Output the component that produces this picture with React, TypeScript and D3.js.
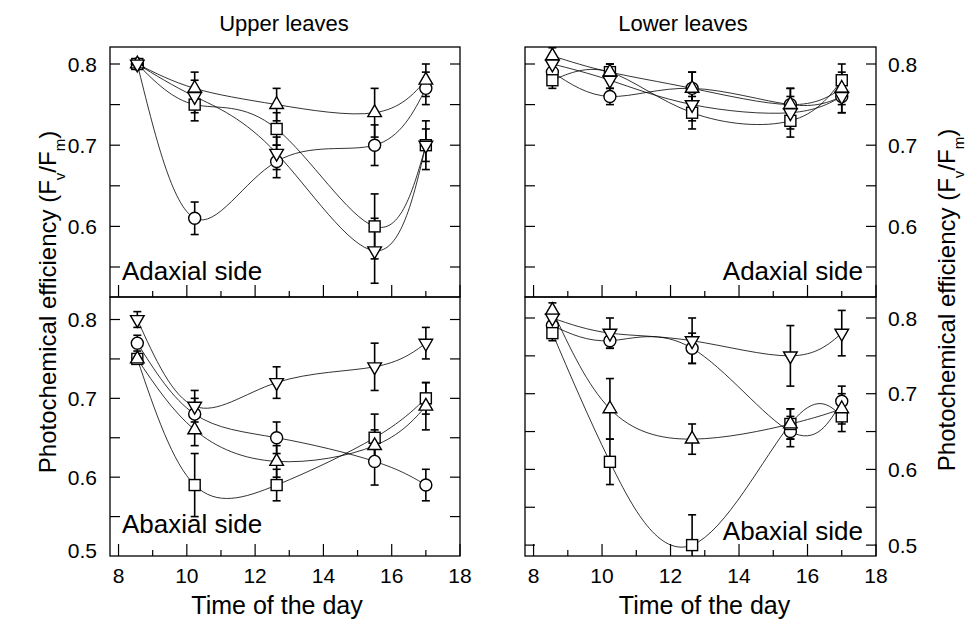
import React from 'react';
import * as d3 from 'd3';

// sampling times (h)
const times = [8.55, 10.23, 12.63, 15.5, 17.0];

// upper leaves, adaxial side
const upAdCircle = [0.80, 0.61, 0.68, 0.70, 0.77];
const upAdSquare = [0.80, 0.75, 0.72, 0.60, 0.70];
const upAdTriUp = [0.80, 0.77, 0.75, 0.74, 0.78];
const upAdTriDown = [0.80, 0.76, 0.69, 0.57, 0.70];
const upAdCircleErr = [0.005, 0.02, 0.02, 0.025, 0.02];
const upAdSquareErr = [0.005, 0.02, 0.02, 0.04, 0.02];
const upAdTriUpErr = [0.005, 0.02, 0.02, 0.03, 0.02];
const upAdTriDownErr = [0.005, 0.02, 0.02, 0.04, 0.03];

// upper leaves, abaxial side
const upAbCircle = [0.77, 0.68, 0.65, 0.62, 0.59];
const upAbSquare = [0.75, 0.59, 0.59, 0.65, 0.70];
const upAbTriUp = [0.75, 0.66, 0.62, 0.64, 0.69];
const upAbTriDown = [0.80, 0.69, 0.72, 0.74, 0.77];
const upAbCircleErr = [0.01, 0.02, 0.02, 0.03, 0.02];
const upAbSquareErr = [0.005, 0.04, 0.02, 0.03, 0.02];
const upAbTriUpErr = [0.005, 0.02, 0.02, 0.02, 0.03];
const upAbTriDownErr = [0.01, 0.02, 0.02, 0.03, 0.02];

// lower leaves, adaxial side
const loAdCircle = [0.79, 0.76, 0.77, 0.75, 0.76];
const loAdSquare = [0.78, 0.79, 0.74, 0.73, 0.78];
const loAdTriUp = [0.81, 0.79, 0.77, 0.75, 0.77];
const loAdTriDown = [0.80, 0.78, 0.75, 0.74, 0.76];
const loAdCircleErr = [0.01, 0.01, 0.02, 0.02, 0.02];
const loAdSquareErr = [0.01, 0.01, 0.02, 0.02, 0.02];
const loAdTriUpErr = [0.01, 0.01, 0.02, 0.02, 0.02];
const loAdTriDownErr = [0.01, 0.01, 0.02, 0.02, 0.02];

// lower leaves, abaxial side
const loAbCircle = [0.79, 0.77, 0.76, 0.65, 0.69];
const loAbSquare = [0.78, 0.61, 0.50, 0.66, 0.67];
const loAbTriUp = [0.81, 0.68, 0.64, 0.66, 0.68];
const loAbTriDown = [0.80, 0.78, 0.77, 0.75, 0.78];
const loAbCircleErr = [0.01, 0.01, 0.02, 0.02, 0.02];
const loAbSquareErr = [0.01, 0.03, 0.04, 0.02, 0.02];
const loAbTriUpErr = [0.01, 0.04, 0.02, 0.02, 0.02];
const loAbTriDownErr = [0.01, 0.02, 0.03, 0.04, 0.03];

const xTicks = [8, 10, 12, 14, 16, 18];
const yTicksUpper = [0.6, 0.7, 0.8];
const yTicksLower = [0.5, 0.6, 0.7, 0.8];

const FONT = "'Liberation Sans', Arial, sans-serif";

type Series = { shape: string; values: number[]; err: number[] };

const Marker = ({ shape, x, y }: { shape: string; x: number; y: number }) => {
  const st = { fill: 'white', stroke: '#000', strokeWidth: 1.4 };
  if (shape === 'circle') return <circle cx={x} cy={y} r={6} {...st} />;
  if (shape === 'square') return <rect x={x - 5.5} y={y - 5.5} width={11} height={11} {...st} />;
  const p = d3.symbol().type(d3.symbolTriangle).size(80)();
  const rot = shape === 'down' ? 180 : 0;
  return <path d={p || ''} transform={`translate(${x},${y}) rotate(${rot})`} {...st} />;
};

const Panel = ({ id, x0, x1, y0, y1, yDomain, series, yTicks, side, label, labelAnchor, labelY, bottomLabels, titleShift }: any) => {
  const x = d3.scaleLinear().domain([7.75, 18]).range([x0, x1]);
  const y = d3.scaleLinear().domain(yDomain).range([y1, y0]);
  const line = d3.line<number>().x((_, i) => x(times[i])).y((d) => y(d)).curve(d3.curveNatural);
  const minorY = d3.range(0.5, 0.851, 0.05).filter((v) => y(v) > y0 + 2 && y(v) < y1 - 1);
  const hours = d3.range(8, 19);
  return (
    <g>
      <defs>
        <clipPath id={id}>
          <rect x={x0} y={y0} width={x1 - x0} height={y1 - y0} />
        </clipPath>
      </defs>
      <g clipPath={`url(#${id})`}>
        {series.map((s: Series, k: number) => (
          <path key={k} d={line(s.values) || ''} fill="none" stroke="#000" strokeWidth={0.8} />
        ))}
        {series.map((s: Series, k: number) =>
          s.values.map((v, i) => (
            <g key={`${k}-${i}`} stroke="#000" strokeWidth={1.6}>
              <line x1={x(times[i])} x2={x(times[i])} y1={y(v - s.err[i])} y2={y(v + s.err[i])} />
              <line x1={x(times[i]) - 4} x2={x(times[i]) + 4} y1={y(v - s.err[i])} y2={y(v - s.err[i])} />
              <line x1={x(times[i]) - 4} x2={x(times[i]) + 4} y1={y(v + s.err[i])} y2={y(v + s.err[i])} />
            </g>
          ))
        )}
        {series.map((s: Series, k: number) =>
          s.values.map((v, i) => <Marker key={`m${k}-${i}`} shape={s.shape} x={x(times[i])} y={y(v)} />)
        )}
      </g>
      <rect x={x0} y={y0} width={x1 - x0} height={y1 - y0} fill="none" stroke="#000" strokeWidth={1.3} />
      {minorY.map((v: number) => (
        <g key={`yt${v}`} stroke="#000" strokeWidth={1.2}>
          <line x1={x0} x2={x0 + 10} y1={y(v)} y2={y(v)} />
          <line x1={x1 - 10} x2={x1} y1={y(v)} y2={y(v)} />
        </g>
      ))}
      {hours.map((h: number) => (
        <line key={`xt${h}`} x1={x(h)} x2={x(h)} y1={y1} y2={y1 - (h % 2 === 0 ? 12 : 6)} stroke="#000" strokeWidth={1.2} />
      ))}
      {yTicks.map((v: number) => (
        <text
          key={`yl${v}`}
          x={side === 'left' ? x0 - 13 : x1 + 12}
          y={Math.min(y(v), y1 - 6)}
          dy="0.36em"
          textAnchor={side === 'left' ? 'end' : 'start'}
          fontSize={21}
          fontFamily={FONT}
        >
          {v.toFixed(1)}
        </text>
      ))}
      <text
        x={labelAnchor === 'start' ? x0 + 12 : x1 - 13}
        y={labelY}
        textAnchor={labelAnchor}
        fontSize={26}
        fontFamily={FONT}
      >
        {label}
      </text>
      {bottomLabels &&
        xTicks.map((t) => (
          <text key={`xl${t}`} x={x(t)} y={y1 + 27} textAnchor="middle" fontSize={21} fontFamily={FONT}>
            {t}
          </text>
        ))}
      {bottomLabels && (
        <text x={(x0 + x1) / 2 + titleShift} y={y1 + 58} textAnchor="middle" fontSize={25} fontFamily={FONT}>
          Time of the day
        </text>
      )}
    </g>
  );
};

const YLabel = ({ x, y }: { x: number; y: number }) => (
  <text transform={`translate(${x},${y}) rotate(-90)`} textAnchor="middle" fontSize={24} fontFamily={FONT}>
    Photochemical efficiency (F
    <tspan baselineShift="sub" fontSize={15}>v</tspan>
    <tspan>/F</tspan>
    <tspan baselineShift="sub" fontSize={15}>m</tspan>
    <tspan>)</tspan>
  </text>
);

export default function App() {
  const upperDomain = [0.55 - 30 / 812, 0.8 + 17 / 812];
  const lowerLeftDomain = [0.5, 0.8 + 22.5 / 788];
  const lowerRightDomain = [0.8 - 238 / 757, 0.8 + 21 / 757];
  const mk = (c: number[], ce: number[], s: number[], se: number[], u: number[], ue: number[], d: number[], de: number[]) => [
    { shape: 'circle', values: c, err: ce },
    { shape: 'square', values: s, err: se },
    { shape: 'up', values: u, err: ue },
    { shape: 'down', values: d, err: de },
  ];
  return (
    <svg width={978} height={625} style={{ position: 'absolute', left: 0, top: 0, background: '#fff' }}>
      <text x={284} y={31} textAnchor="middle" fontSize={22} fontFamily={FONT}>Upper leaves</text>
      <text x={683} y={31} textAnchor="middle" fontSize={22} fontFamily={FONT}>Lower leaves</text>
      <Panel id="c1" x0={110} x1={460} y0={47} y1={297} yDomain={upperDomain} yTicks={yTicksUpper} side="left"
        label="Adaxial side" labelAnchor="start" labelY={280}
        series={mk(upAdCircle, upAdCircleErr, upAdSquare, upAdSquareErr, upAdTriUp, upAdTriUpErr, upAdTriDown, upAdTriDownErr)} />
      <Panel id="c2" x0={110} x1={460} y0={297} y1={556} yDomain={lowerLeftDomain} yTicks={yTicksLower} side="left"
        label="Abaxial side" labelAnchor="start" labelY={533} bottomLabels titleShift={-8}
        series={mk(upAbCircle, upAbCircleErr, upAbSquare, upAbSquareErr, upAbTriUp, upAbTriUpErr, upAbTriDown, upAbTriDownErr)} />
      <Panel id="c3" x0={525} x1={876} y0={47} y1={297} yDomain={upperDomain} yTicks={yTicksUpper} side="right"
        label="Adaxial side" labelAnchor="end" labelY={280}
        series={mk(loAdCircle, loAdCircleErr, loAdSquare, loAdSquareErr, loAdTriUp, loAdTriUpErr, loAdTriDown, loAdTriDownErr)} />
      <Panel id="c4" x0={525} x1={876} y0={297} y1={556} yDomain={lowerRightDomain} yTicks={yTicksLower} side="right"
        label="Abaxial side" labelAnchor="end" labelY={540} bottomLabels titleShift={4}
        series={mk(loAbCircle, loAbCircleErr, loAbSquare, loAbSquareErr, loAbTriUp, loAbTriUpErr, loAbTriDown, loAbTriDownErr)} />
      <YLabel x={56} y={302} />
      <YLabel x={955} y={300} />
    </svg>
  );
}
